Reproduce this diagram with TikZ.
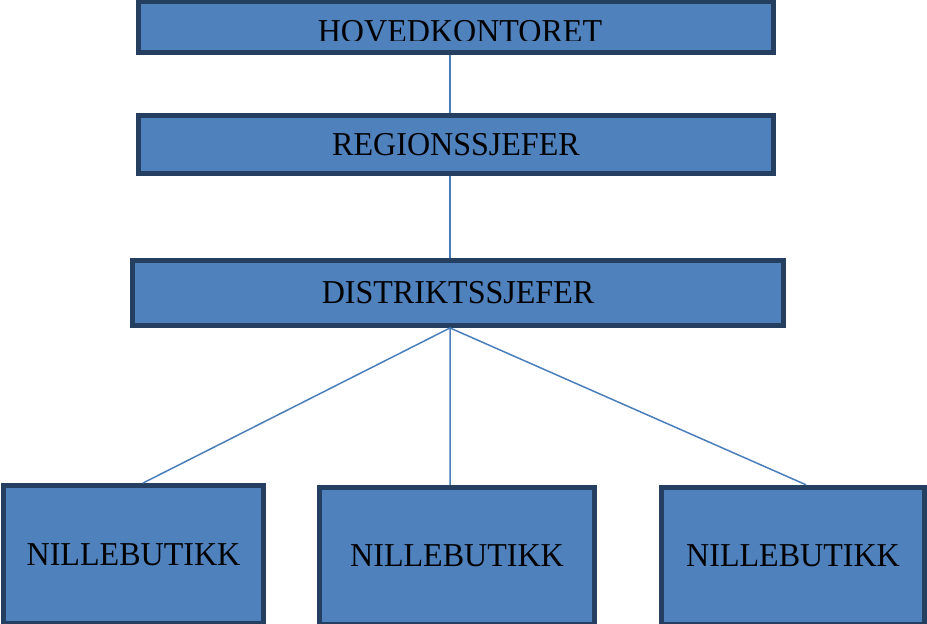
\documentclass[tikz,border=0pt]{standalone}
\usepackage{fontspec}
\setmainfont{Liberation Serif}[FakeStretch=0.96]
\definecolor{boxfill}{HTML}{4F81BD}
\definecolor{boxline}{HTML}{243F60}
\definecolor{linkline}{HTML}{4A7EBB}

\begin{document}
\begin{tikzpicture}[
  unit/.style={draw=boxline, fill=boxfill, line width=2.8pt, inner sep=0pt,
    font=\fontsize{19}{22}\selectfont},
  label/.style={inner sep=0pt, font=\fontsize{19}{22}\selectfont},
  link/.style={draw=linkline, line width=0.85pt}]
  \useasboundingbox (0,0) rectangle (18.54,12.48);

  \node[unit, minimum width=12.70cm, minimum height=1.02cm] (hk) at (9.12, 11.94) {};
  \begin{scope}
    \clip (2.8, 11.66) rectangle (15.4, 12.44);
    \node[label, anchor=base] (hktext) at (9.20, 11.62) {HOVEDKONTORET};
  \end{scope}
  \node[unit, minimum width=12.70cm, minimum height=1.16cm] (rs) at (9.12, 9.59) {REGIONSSJEFER};
  \node[unit, minimum width=13.02cm, minimum height=1.30cm] (ds) at (9.16, 6.62) {DISTRIKTSSJEFER};

  \node[unit, minimum width=5.20cm, minimum height=2.76cm] (nb1) at (2.67, 1.39) {NILLEBUTIKK};
  \node[unit, minimum width=5.50cm, minimum height=2.74cm] (nb2) at (9.14, 1.365) {NILLEBUTIKK};
  \node[unit, minimum width=5.26cm, minimum height=2.74cm] (nb3) at (15.86, 1.365) {NILLEBUTIKK};

  \coordinate (dj) at ([xshift=-0.16cm]ds.south);
  \draw[link] (hk.south -| dj) -- (rs.north -| dj);
  \draw[link] (rs.south -| dj) -- (ds.north -| dj);
  \draw[link] (dj) -- ([xshift=0.19cm]nb1.north);
  \draw[link] (dj) -- ([xshift=-0.14cm]nb2.north);
  \draw[link] (dj) -- ([xshift=0.26cm]nb3.north);
\end{tikzpicture}
\end{document}
